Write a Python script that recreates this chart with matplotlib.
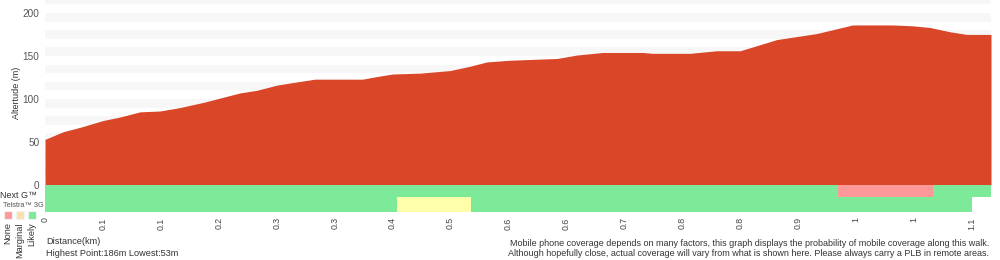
import numpy as np
import matplotlib
matplotlib.use("Agg")
import matplotlib.pyplot as plt

plt.rcParams['font.family'] = ['Liberation Sans', 'DejaVu Sans']

# elevation profile (km, m)
dist_km = [0.000, 0.022, 0.042, 0.070, 0.090, 0.114, 0.138, 0.162, 0.190, 0.210,
           0.234, 0.254, 0.278, 0.297, 0.324, 0.350, 0.381, 0.398, 0.417, 0.450,
           0.486, 0.510, 0.530, 0.558, 0.585, 0.614, 0.638, 0.669, 0.717, 0.729,
           0.774, 0.806, 0.834, 0.878, 0.926, 0.969, 1.017, 1.041, 1.062, 1.086,
           1.106, 1.135]
elev_m = [53, 62, 67, 75, 79, 85, 86, 90, 96, 101,
          107, 110, 116, 119, 123, 123, 123, 126, 129, 130,
          133, 138, 143, 145, 146, 147, 151, 154, 154, 153,
          153, 156, 156, 169, 176, 186, 186, 185, 183, 178,
          175, 175]

# coverage segments: (start km, end km, level)
nextg_segments = [(0.0, 0.952, 'Likely'), (0.952, 1.065, 'None'), (1.065, 1.135, 'Likely')]
g3_segments = [(0.0, 0.422, 'Likely'), (0.422, 0.511, 'Marginal'), (0.511, 1.112, 'Likely')]

tick_step = 0.0695
tick_vals = [i * tick_step for i in range(17)]
tick_labels = ['%g' % round(v, 1) for v in tick_vals]
ytick_vals = [0, 50, 100, 150, 200]

level_colors = {'None': '#ff9999', 'Marginal': '#ffffaa', 'Likely': '#7dea99'}
legend_colors = {'None': '#ff9999', 'Marginal': '#ffdfa8', 'Likely': '#7dea99'}

fig = plt.figure(figsize=(10, 2.6), dpi=100)
W, H = 1000, 260
x0, x1 = 45, 991

ax = fig.add_axes([x0 / W, 1 - 185 / H, (x1 - x0) / W, 185 / H])
for b in range(10, 220, 20):
    ax.axhspan(b, b + 10, color='#f7f7f7', lw=0, zorder=0)
ax.fill_between(dist_km, elev_m, 0, color='#d94628', lw=0, zorder=2)
ax.set_xlim(0, dist_km[-1])
ax.set_ylim(0, 215)
ax.set_xticks([])
ax.set_yticks(ytick_vals)
ax.set_yticklabels([str(v) for v in ytick_vals], fontsize=7.2, color='#555555')
ax.tick_params(axis='y', length=0, pad=4)
ax.set_ylabel('Altertude (m)', fontsize=6.5, color='#333333', labelpad=1)
for s in ax.spines.values():
    s.set_visible(False)

sx = fig.add_axes([x0 / W, 1 - 211.7 / H, (x1 - x0) / W, 26.7 / H])
for y, h, segs in [(1.1, 0.9, nextg_segments), (0, 1.1, g3_segments)]:
    for a, b, lvl in segs:
        sx.broken_barh([(a, b - a)], (y, h), facecolor=level_colors[lvl], lw=0)
sx.set_xlim(0, dist_km[-1])
sx.set_ylim(0, 2)
sx.set_yticks([])
sx.set_xticks(tick_vals)
sx.set_xticklabels(tick_labels, rotation=90, fontsize=6.3, color='#444444')
sx.tick_params(axis='x', length=0, pad=4)
for s in sx.spines.values():
    s.set_visible(False)

fig.text(0.5 / W, 1 - 195 / H, 'Next G\u2122', fontsize=6.5, color='#333333', va='center')
fig.text(3 / W, 1 - 205.5 / H, 'Telstra\u2122 3G', fontsize=5.3, color='#555555', va='center')
for i, lvl in enumerate(['None', 'Marginal', 'Likely']):
    cx = 8 + 12 * i
    fig.patches.append(plt.Rectangle(((cx - 4) / W, 1 - 219 / H), 8 / W, 8 / H,
                                     transform=fig.transFigure, facecolor=legend_colors[lvl],
                                     edgecolor='#f2f2f2', lw=0.8))
    fig.text(cx / W, 1 - 222 / H, lvl, rotation=90, fontsize=6.6, color='#333333',
             ha='center', va='top')

fig.text(46 / W, 1 - 242 / H, 'Distance(km)', fontsize=6.6, color='#333333', va='center')
fig.text(46 / W, 1 - 253 / H, 'Highest Point:186m Lowest:53m', fontsize=6.6, color='#333333', va='center')
fig.text(989 / W, 1 - 243 / H,
         'Mobile phone coverage depends on many factors, this graph displays the probability of mobile coverage along this walk.',
         fontsize=6.5, color='#333333', ha='right', va='center')
fig.text(989 / W, 1 - 253 / H,
         'Although hopefully close, actual coverage will vary from what is shown here. Please always carry a PLB in remote areas.',
         fontsize=6.5, color='#333333', ha='right', va='center')

fig.savefig('out.png', dpi=100)
